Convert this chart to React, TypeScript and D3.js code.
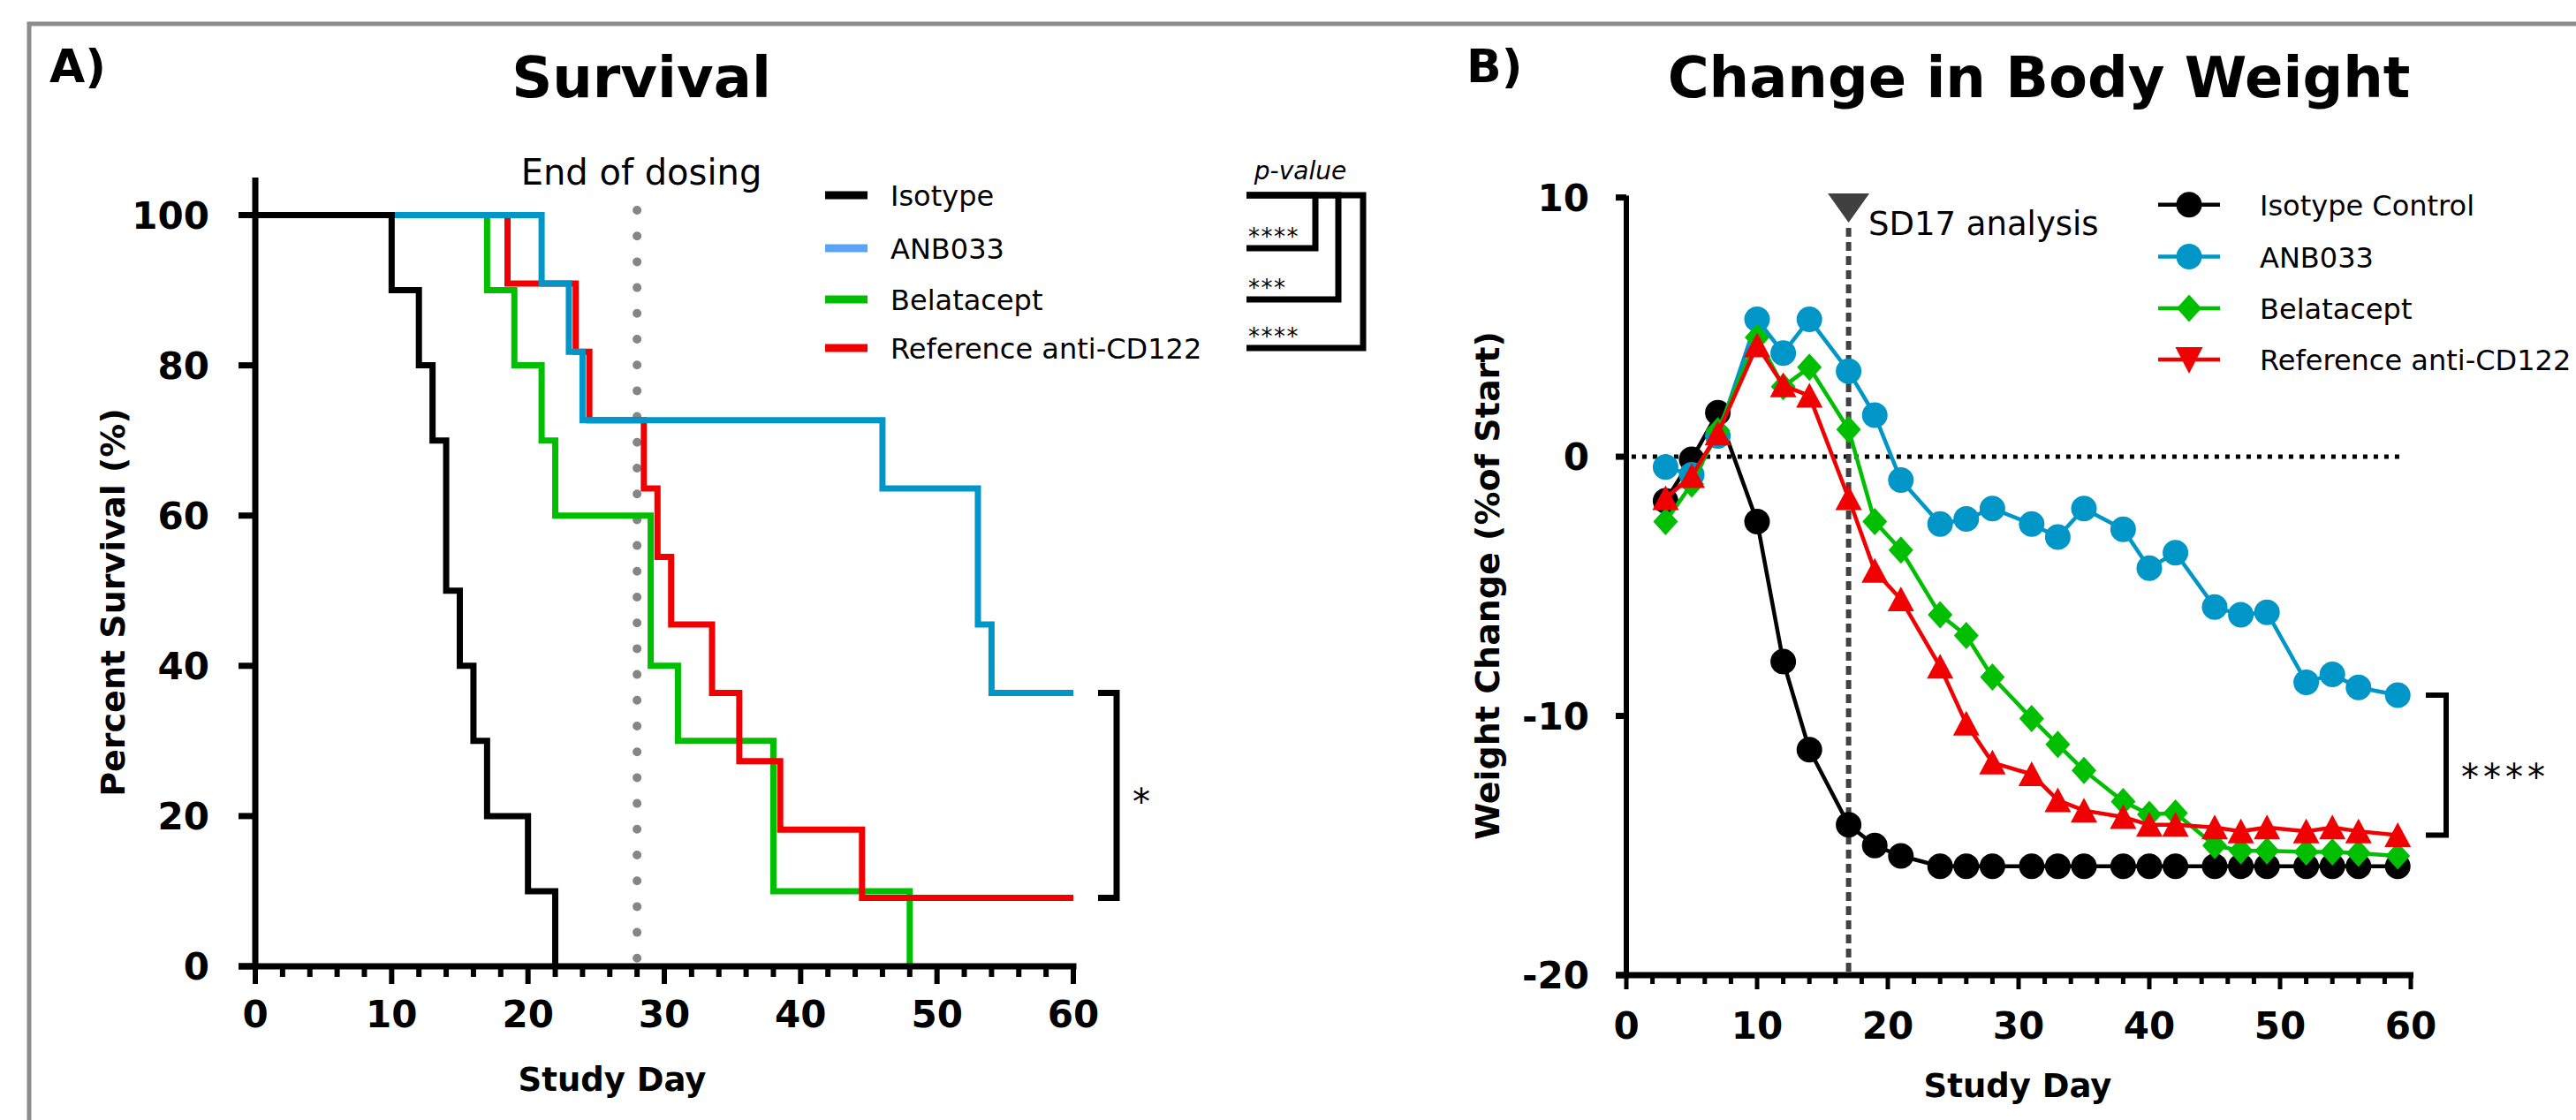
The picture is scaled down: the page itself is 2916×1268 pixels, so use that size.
import React from "react";
import * as d3 from "d3";

const W = 2916;
const H = 1268;
const FONT = "'DejaVu Sans', Verdana, sans-serif";

// ---- Panel A: survival (Kaplan-Meier steps) ----
const survivalGroups = ["Isotype", "ANB033", "Belatacept", "Reference anti-CD122"];
const isotypeDays = [0, 10, 12, 13, 14, 15, 16, 17, 20, 22];
const isotypeSurv = [100, 90, 80, 70, 50, 40, 30, 20, 10, 0];
const anb033Days = [0, 21, 23, 24, 46, 53, 54, 60];
const anb033Surv = [100, 90.9, 81.8, 72.7, 63.6, 45.5, 36.4, 36.4];
const belataceptDays = [0, 17, 19, 21, 22, 29, 31, 38, 48];
const belataceptSurv = [100, 90, 80, 70, 60, 40, 30, 10, 0];
const refDays = [0, 18.5, 23.5, 24.5, 28.5, 29.5, 30.5, 33.5, 35.5, 38.5, 44.5, 60];
const refSurv = [100, 90.9, 81.8, 72.7, 63.6, 54.5, 45.5, 36.4, 27.3, 18.2, 9.1, 9.1];
const survivalTicksY = [0, 20, 40, 60, 80, 100];
const pValueStars = ["****", "***", "****"];
const endOfDosingDay = 28;

// ---- Panel B: body weight ----
const weightGroups = ["Isotype Control", "ANB033", "Belatacept", "Reference anti-CD122"];
const weightDays = [3, 5, 7, 10, 12, 14, 17, 19, 21, 24, 26, 28, 31, 33, 35, 38, 40, 42, 45, 47, 49, 52, 54, 56, 59];
const isotypeWeight = [-1.7, -0.1, 1.7, -2.5, -7.9, -11.3, -14.2, -15.0, -15.4, -15.8, -15.8, -15.8, -15.8, -15.8, -15.8, -15.8, -15.8, -15.8, -15.8, -15.8, -15.8, -15.8, -15.8, -15.8, -15.8];
const anb033Weight = [-0.4, -0.7, 0.8, 5.3, 4.0, 5.3, 3.3, 1.6, -0.9, -2.6, -2.4, -2.0, -2.6, -3.1, -2.0, -2.8, -4.3, -3.7, -5.8, -6.1, -6.0, -8.7, -8.4, -8.9, -9.2];
const belataceptWeight = [-2.5, -1.05, 1.0, 4.6, 2.7, 3.45, 1.05, -2.5, -3.6, -6.1, -6.9, -8.5, -10.1, -11.1, -12.1, -13.3, -13.8, -13.75, -15.0, -15.2, -15.2, -15.25, -15.25, -15.3, -15.4];
const refWeight = [-1.6, -0.75, 0.9, 4.3, 2.75, 2.35, -1.6, -4.4, -5.5, -8.1, -10.3, -11.8, -12.25, -13.25, -13.65, -13.9, -14.2, -14.2, -14.3, -14.45, -14.3, -14.45, -14.3, -14.45, -14.6];
const weightTicksY = [-20, -10, 0, 10];
const analysisDay = 17;

const xTicks = [0, 10, 20, 30, 40, 50, 60];
const minorTicks = d3.range(0, 61, 2);

const BLACK = "#000000";
const BLUE = "#0096c8";
const BLUE_LEGEND = "#5aa3f5";
const GREEN = "#00bf00";
const RED = "#f00000";

const circlePath = d3.symbol(d3.symbolCircle, 660)()!;
const diamondPath = "M0,-15.5L14,0L0,15.5L-14,0Z";
const triUpPath = "M0,-14.5L15,13.5L-15,13.5Z";
const triDownPath = "M-15.5,-14L15.5,-14L0,16Z";

export default function App() {
  const xA = d3.scaleLinear().domain([0, 60]).range([289, 1215]);
  const yA = d3.scaleLinear().domain([0, 105]).range([1094, 201]);
  const xB = d3.scaleLinear().domain([0, 60]).range([1841, 2729]);
  const yB = d3.scaleLinear().domain([-20, 10]).range([1104, 223.6]);

  const stepLine = d3
    .line<[number, number]>()
    .x((d) => xA(d[0]))
    .y((d) => yA(d[1]))
    .curve(d3.curveStepAfter);

  const survSeries = [
    { days: belataceptDays, surv: belataceptSurv, color: GREEN },
    { days: refDays, surv: refSurv, color: RED },
    { days: anb033Days, surv: anb033Surv, color: BLUE },
    { days: isotypeDays, surv: isotypeSurv, color: BLACK },
  ];
  const survLegend = [BLACK, BLUE_LEGEND, GREEN, RED];
  const legendRowsA = [221, 281, 339, 394];

  const wLine = d3
    .line<number>()
    .x((_, i) => xB(weightDays[i]))
    .y((d) => yB(d));

  const weightSeries = [
    { vals: isotypeWeight, color: BLACK, marker: circlePath },
    { vals: anb033Weight, color: BLUE, marker: circlePath },
    { vals: belataceptWeight, color: GREEN, marker: diamondPath },
    { vals: refWeight, color: RED, marker: triUpPath },
  ];
  const weightLegend = [
    { color: BLACK, marker: circlePath },
    { color: BLUE, marker: circlePath },
    { color: GREEN, marker: diamondPath },
    { color: RED, marker: triDownPath },
  ];
  const legendRowsB = [231.7, 290.5, 349, 407];

  const lastA = yA(anb033Surv[anb033Surv.length - 1]);
  const lastR = yA(refSurv[refSurv.length - 1]);
  const lastBB = yB(anb033Weight[anb033Weight.length - 1]);
  const lastBR = yB(refWeight[refWeight.length - 1]);

  return (
    <svg
      width={W}
      height={H}
      viewBox={`0 0 ${W} ${H}`}
      style={{ position: "absolute", left: 0, top: 0, background: "#fff" }}
      fontFamily={FONT}
    >
      <rect x={0} y={0} width={W} height={H} fill="#fff" />
      {/* Frame */}
      <rect x={33} y={27} width={W + 20} height={H + 20} fill="none" stroke="#8c8c8c" strokeWidth={5} />

      {/* ================= Panel A ================= */}
      <text x={56} y={93} fontSize={52} fontWeight="bold">A)</text>
      <text x={726} y={110} fontSize={64} fontWeight="bold" textAnchor="middle">Survival</text>

      {/* End of dosing */}
      <line
        x1={xA(endOfDosingDay)}
        x2={xA(endOfDosingDay)}
        y1={238}
        y2={yA(0) - 6}
        stroke="#858585"
        strokeWidth={10}
        strokeLinecap="round"
        strokeDasharray="0 29.2"
      />
      <text x={726} y={209} fontSize={40} textAnchor="middle">End of dosing</text>

      {/* Survival curves */}
      {survSeries.map((s, i) => (
        <path
          key={i}
          d={stepLine(s.days.map((d, j) => [d, s.surv[j]] as [number, number]))!}
          fill="none"
          stroke={s.color}
          strokeWidth={7}
          strokeLinejoin="miter"
        />
      ))}

      {/* Axes A */}
      <line x1={289} x2={289} y1={yA(105)} y2={yA(0) + 3.5} stroke="#000" strokeWidth={7} />
      <line x1={270} x2={xA(60) + 3.5} y1={yA(0)} y2={yA(0)} stroke="#000" strokeWidth={7} />
      {survivalTicksY.map((t) => (
        <g key={t}>
          <line x1={270} x2={289} y1={yA(t)} y2={yA(t)} stroke="#000" strokeWidth={7} />
          <text x={237} y={yA(t)} dy="0.36em" fontSize={42} fontWeight="bold" textAnchor="end">{t}</text>
        </g>
      ))}
      {minorTicks.map((t) => (
        <line
          key={t}
          x1={xA(t)}
          x2={xA(t)}
          y1={yA(0)}
          y2={yA(0) + (t % 10 === 0 ? 20 : 12)}
          stroke="#000"
          strokeWidth={6}
        />
      ))}
      {xTicks.map((t) => (
        <text key={t} x={xA(t)} y={1163} fontSize={42} fontWeight="bold" textAnchor="middle">{t}</text>
      ))}
      <text x={693} y={1235} fontSize={37} fontWeight="bold" textAnchor="middle">Study Day</text>
      <text
        transform={`translate(141,682) rotate(-90)`}
        fontSize={38}
        fontWeight="bold"
        textAnchor="middle"
      >
        Percent Survival (%)
      </text>

      {/* Legend A */}
      {survivalGroups.map((g, i) => (
        <g key={g}>
          <line x1={934} x2={982} y1={legendRowsA[i]} y2={legendRowsA[i]} stroke={survLegend[i]} strokeWidth={9} />
          <text x={1008} y={legendRowsA[i] + 11.5} fontSize={32}>{g}</text>
        </g>
      ))}

      {/* p-value brackets */}
      <text x={1472} y={203} fontSize={28} fontStyle="italic" textAnchor="middle">p-value</text>
      {[1489, 1515, 1543].map((vx, i) => (
        <path
          key={vx}
          d={`M1411,${legendRowsA[0]}H${vx}V${legendRowsA[i + 1]}H1411`}
          fill="none"
          stroke="#000"
          strokeWidth={7}
        />
      ))}
      {pValueStars.map((s, i) => (
        <text key={i} x={1413} y={legendRowsA[i + 1] - 4} fontSize={26} letterSpacing={1.5}>{s}</text>
      ))}

      {/* Significance bracket A */}
      <path
        d={`M1243,${lastA}H1264V${lastR}H1243`}
        fill="none"
        stroke="#000"
        strokeWidth={7}
      />
      <text x={1292} y={922} fontSize={40} textAnchor="middle">*</text>

      {/* ================= Panel B ================= */}
      <text x={1660} y={93} fontSize={52} fontWeight="bold">B)</text>
      <text x={2308} y={110} fontSize={64} fontWeight="bold" textAnchor="middle">Change in Body Weight</text>

      {/* zero line */}
      <line
        x1={xB(0.4)}
        x2={xB(59.2)}
        y1={yB(0)}
        y2={yB(0)}
        stroke="#000"
        strokeWidth={5}
        strokeDasharray="5 7"
      />
      {/* SD17 analysis */}
      <line
        x1={xB(analysisDay)}
        x2={xB(analysisDay)}
        y1={258}
        y2={yB(-20)}
        stroke="#404040"
        strokeWidth={6}
        strokeDasharray="10 6"
      />
      <path
        d={`M${xB(analysisDay) - 23.5},219L${xB(analysisDay) + 23.5},219L${xB(analysisDay)},252Z`}
        fill="#404040"
      />
      <text x={2115} y={266} fontSize={37}>SD17 analysis</text>

      {/* Weight series */}
      {weightSeries.map((s, i) => (
        <g key={i}>
          <path d={wLine(s.vals)!} fill="none" stroke={s.color} strokeWidth={4.5} />
          {s.vals.map((v, j) => (
            <path
              key={j}
              d={s.marker}
              transform={`translate(${xB(weightDays[j])},${yB(v)})`}
              fill={s.color}
            />
          ))}
        </g>
      ))}

      {/* Axes B */}
      <line x1={1841} x2={1841} y1={yB(10) - 2} y2={yB(-20) + 3.5} stroke="#000" strokeWidth={6} />
      <line x1={1829} x2={xB(60) + 3} y1={yB(-20)} y2={yB(-20)} stroke="#000" strokeWidth={7} />
      {weightTicksY.map((t) => (
        <g key={t}>
          <line x1={1829} x2={1841} y1={yB(t)} y2={yB(t)} stroke="#000" strokeWidth={7} />
          <text x={1799} y={yB(t)} dy="0.36em" fontSize={42} fontWeight="bold" textAnchor="end">{t}</text>
        </g>
      ))}
      {minorTicks.map((t) => (
        <line
          key={t}
          x1={xB(t)}
          x2={xB(t)}
          y1={yB(-20)}
          y2={yB(-20) + (t % 10 === 0 ? 16 : 10)}
          stroke="#000"
          strokeWidth={5}
        />
      ))}
      {xTicks.map((t) => (
        <text key={t} x={xB(t)} y={1176} fontSize={42} fontWeight="bold" textAnchor="middle">{t}</text>
      ))}
      <text x={2284} y={1242} fontSize={37} fontWeight="bold" textAnchor="middle">Study Day</text>
      <text
        transform={`translate(1697,663) rotate(-90)`}
        fontSize={38}
        fontWeight="bold"
        textAnchor="middle"
      >
        Weight Change (%of Start)
      </text>

      {/* Legend B */}
      {weightGroups.map((g, i) => (
        <g key={g}>
          <line x1={2443} x2={2513} y1={legendRowsB[i]} y2={legendRowsB[i]} stroke={weightLegend[i].color} strokeWidth={4.5} />
          <path
            d={weightLegend[i].marker}
            transform={`translate(2478,${legendRowsB[i]})`}
            fill={weightLegend[i].color}
          />
          <text x={2558} y={legendRowsB[i] + 12} fontSize={32}>{g}</text>
        </g>
      ))}

      {/* Significance bracket B */}
      <path
        d={`M2746,${lastBB}H2769V${lastBR}H2746`}
        fill="none"
        stroke="#000"
        strokeWidth={6}
      />
      <text x={2786} y={894} fontSize={40} letterSpacing={5}>****</text>
    </svg>
  );
}
